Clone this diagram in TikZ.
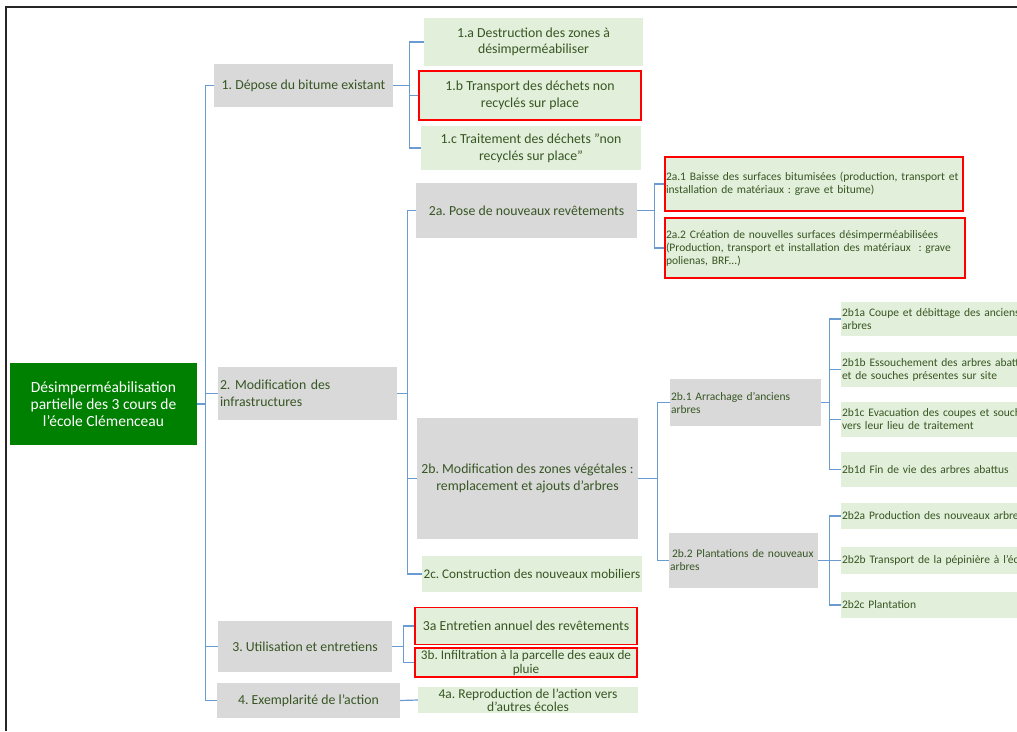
\documentclass[tikz,border=0pt]{standalone}
\usepackage{fontspec}
\setmainfont{Carlito}
\frenchspacing
\definecolor{boxgray}{HTML}{D9D9D9}
\definecolor{leafgreen}{HTML}{E2EFDA}
\definecolor{rootgreen}{HTML}{008000}
\definecolor{txtgreen}{HTML}{375623}
\definecolor{connblue}{HTML}{6A9BD1}
\definecolor{hlred}{HTML}{FF0000}
\begin{document}
\begin{tikzpicture}[x=1pt,y=-1pt,
  box/.style={rectangle, inner xsep=2pt, inner ysep=1pt, text=txtgreen,
    font=\fontsize{13.8}{16.5}\selectfont, align=center},
  graybox/.style={box, fill=boxgray},
  leafbox/.style={box, fill=leafgreen},
  redbox/.style={box, fill=leafgreen, draw=hlred, line width=1.6pt},
  smalltext/.style={font=\fontsize{11.5}{13}\selectfont, align=left, inner xsep=1pt},
  lefttext/.style={align=left},
  conn/.style={draw=connblue, line width=1.2pt}]
\useasboundingbox (0,0) rectangle (1017,731);
\clip (0,0) rectangle (1017,731);
\fill[white] (0,0) rectangle (1017,731);
\draw[black!85, line width=1.5pt] (6,731) -- (6,7) -- (1017,7);

% root
\node[box, fill=rootgreen, text=white, font=\fontsize{15.5}{17}\selectfont,
  minimum width=187, minimum height=82] (root) at (103.5,404)
  {Désimperméabilisation\\partielle des 3 cours de\\l'école Clémenceau};

% level 1
\node[graybox, minimum width=179, minimum height=43] (n1) at (303.5,85.5) {1. Dépose du bitume existant};
\node[graybox, lefttext, text width=175pt, minimum height=53] (n2) at (307.5,393.5) {2. Modification des\\infrastructures};
\node[graybox, minimum width=174, minimum height=51] (n3) at (305,646.5) {3. Utilisation et entretiens};
\node[graybox, minimum width=183, minimum height=35] (n4) at (308.5,700.5) {4. Exemplarité de l'action};

% group 1
\node[leafbox, minimum width=219, minimum height=48] (n1a) at (533.5,42) {1.a Destruction des zones à\\désimperméabiliser};
\node[redbox, minimum width=222, minimum height=49] (n1b) at (530,95.5) {1.b Transport des déchets non\\recyclés sur place};
\node[leafbox, minimum width=220, minimum height=44] (n1c) at (531,148) {1.c Traitement des déchets "non\\recyclés sur place"};

% group 2
\node[graybox, minimum width=221, minimum height=55] (n2a) at (526.5,210.5) {2a. Pose de nouveaux revêtements};
\node[graybox, minimum width=221, minimum height=121] (n2b) at (527.5,478.5) {2b. Modification des zones végétales :\\remplacement et ajouts d'arbres};
\node[leafbox, minimum width=220, inner xsep=0pt, minimum height=36, font=\fontsize{13.2}{16}\selectfont] (n2c) at (532,574) {2c. Construction des nouveaux mobiliers};

\node[redbox, smalltext, text width=296pt, minimum height=54] (n2a1) at (814,184)
  {2a.1 Baisse des surfaces bitumisées (production, transport et\\installation de matériaux : grave et bitume)};
\node[redbox, smalltext, text width=298pt, minimum height=60] (n2a2) at (815,248)
  {2a.2 Création de nouvelles surfaces désimperméabilisées\\(Production, transport et installation des matériaux~~: grave\\polienas, BRF...)};

\node[graybox, smalltext, text width=149pt, minimum height=47] (n2b1) at (745.5,402.5) {2b.1 Arrachage d'anciens\\arbres};
\node[graybox, smalltext, text width=147pt, minimum height=55] (n2b2) at (743.5,560.5) {\hspace*{2pt}2b.2 Plantations de nouveaux\\arbres};

\node[leafbox, smalltext, text width=198pt, minimum height=34] (l1a) at (941,319) {2b1a Coupe et débittage des anciens\\arbres};
\node[leafbox, smalltext, text width=198pt, minimum height=35] (l1b) at (941,369.5) {2b1b Essouchement des arbres abattus\\et de souches présentes sur site};
\node[leafbox, smalltext, text width=198pt, minimum height=35] (l1c) at (941,419.5) {2b1c Evacuation des coupes et souches\\vers leur lieu de traitement};
\node[leafbox, smalltext, text width=198pt, minimum height=35] (l1d) at (941,469.5) {2b1d Fin de vie des arbres abattus};
\node[leafbox, smalltext, text width=198pt, minimum height=26] (l2a) at (941,516) {2b2a Production des nouveaux arbres};
\node[leafbox, smalltext, text width=198pt, minimum height=27] (l2b) at (941,560.5) {2b2b Transport de la pépinière à l'école};
\node[leafbox, smalltext, text width=198pt, minimum height=26] (l2c) at (941,605) {2b2c Plantation};

% group 3
\node[redbox, minimum width=222, minimum height=37] (n3a) at (526,626) {3a Entretien annuel des revêtements};
\node[redbox, minimum width=222, minimum height=29, inner sep=0pt] (n3b) at (526,662.5) {};
\node[box, font=\fontsize{13.2}{14}\selectfont, inner sep=0pt] (n3bt) at (n3b.center) {3b. Infiltration à la parcelle des eaux de\\pluie};

% group 4
\node[leafbox, minimum width=220, minimum height=26, inner sep=0pt] (n4a) at (528,700) {};
\node[box, font=\fontsize{13.5}{13}\selectfont, inner sep=0pt] (n4at) at (n4a.center) {4a. Reproduction de l'action vers\\d'autres écoles};

% connectors
\foreach \c in {n1,n2,n3,n4} \draw[conn] (root.east) -- ++(8,0) |- (\c.west);
\foreach \c in {n1a,n1b,n1c} \draw[conn] (n1.east) -- ++(16,0) |- (\c.west);
\foreach \c in {n2a,n2b,n2c} \draw[conn] (n2.east) -- ++(10,0) |- (\c.west);
\foreach \c in {n2a1,n2a2} \draw[conn] (n2a.east) -- ++(17,0) |- (\c.west);
\foreach \c in {n2b1,n2b2} \draw[conn] (n2b.east) -- ++(19,0) |- (\c.west);
\foreach \c in {l1a,l1b,l1c,l1d} \draw[conn] (n2b1.east) -- ++(8,0) |- (\c.west);
\foreach \c in {l2a,l2b,l2c} \draw[conn] (n2b2.east) -- ++(11,0) |- (\c.west);
\foreach \c in {n3a,n3b} \draw[conn] (n3.east) -- ++(11,0) |- (\c.west);
\draw[conn] (n4.east) -- (n4a.west);
\end{tikzpicture}
\end{document}
